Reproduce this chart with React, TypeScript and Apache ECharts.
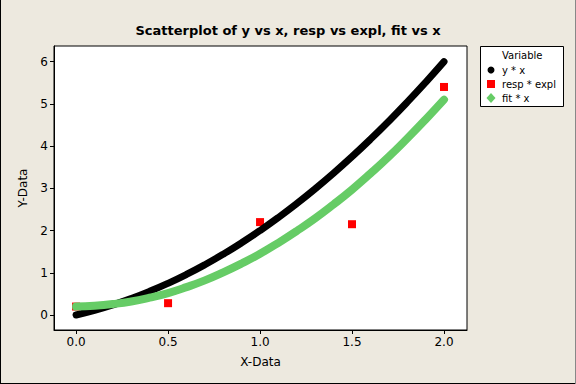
import React, { useEffect, useRef } from "react";
import * as echarts from "echarts";

const xValues = [0, 0.1, 0.2, 0.3, 0.4, 0.5, 0.6, 0.7, 0.8, 0.9, 1.0, 1.1, 1.2, 1.3, 1.4, 1.5, 1.6, 1.7, 1.8, 1.9, 2.0];
const yValues = [0, 0.11, 0.24, 0.39, 0.56, 0.75, 0.96, 1.19, 1.44, 1.71, 2.0, 2.31, 2.64, 2.99, 3.36, 3.75, 4.16, 4.59, 5.04, 5.51, 6.0];
const fitValues = [0.2, 0.22, 0.26, 0.32, 0.41, 0.52, 0.66, 0.82, 1.01, 1.22, 1.45, 1.71, 1.99, 2.29, 2.62, 2.97, 3.35, 3.75, 4.18, 4.63, 5.1];
const explValues = [0, 0.5, 1.0, 1.5, 2.0];
const respValues = [0.2, 0.28, 2.2, 2.15, 5.4];

const xTicks = [0, 0.5, 1, 1.5, 2];
const yTicks = [0, 1, 2, 3, 4, 5, 6];

const seriesNames = ["y * x", "resp * expl", "fit * x"];
const colors = ["#000000", "#FF0000", "#66CC66"];

const FONT = "DejaVu Sans";

export default function App() {
  const ref = useRef<HTMLDivElement>(null);
  useEffect(() => {
    document.body.style.margin = "0";
    const chart = echarts.init(ref.current!, null, { renderer: "svg" });
    const pair = (xs: number[], ys: number[]) => xs.map((x, i) => [x, ys[i]]);
    const lx = 491;
    const ly = [70, 84, 98];
    chart.setOption({
      animation: false,
      backgroundColor: "#EDE9DF",
      title: {
        text: "Scatterplot of y vs x, resp vs expl, fit vs x",
        left: "center",
        top: 19,
        textStyle: { fontFamily: FONT, fontSize: 13, fontWeight: "bold", color: "#000" },
      },
      grid: {
        left: 54,
        top: 46,
        right: 109,
        bottom: 54,
        show: true,
        backgroundColor: "#fff",
        borderColor: "#000",
        borderWidth: 1,
      },
      xAxis: {
        type: "value",
        min: -0.12,
        max: 2.125,
        name: "X-Data",
        nameLocation: "middle",
        nameGap: 26,
        nameTextStyle: { fontFamily: FONT, fontSize: 12, color: "#000" },
        axisLine: { show: true, onZero: false, lineStyle: { color: "#000" } },
        axisTick: { show: true, length: 4, lineStyle: { color: "#000" }, customValues: xTicks },
        axisLabel: {
          fontFamily: FONT,
          fontSize: 12,
          color: "#000",
          margin: 6,
          customValues: xTicks,
          formatter: (v: number) => v.toFixed(1),
        },
        splitLine: { show: false },
      },
      yAxis: {
        type: "value",
        min: -0.355,
        max: 6.37,
        name: "Y-Data",
        nameLocation: "middle",
        nameGap: 23,
        nameTextStyle: { fontFamily: FONT, fontSize: 12, color: "#000" },
        axisLine: { show: true, onZero: false, lineStyle: { color: "#000" } },
        axisTick: { show: true, length: 4, lineStyle: { color: "#000" }, customValues: yTicks },
        axisLabel: {
          fontFamily: FONT,
          fontSize: 12,
          color: "#000",
          margin: 6,
          customValues: yTicks,
        },
        splitLine: { show: false },
      },
      graphic: [
        {
          type: "rect",
          shape: { x: 480.5, y: 46.5, width: 83, height: 60 },
          style: { fill: "#fff", stroke: "#000", lineWidth: 1 },
        },
        {
          type: "text",
          x: 502,
          y: 50,
          style: { text: "Variable", fontFamily: FONT, fontSize: 10, fill: "#000" },
        },
        { type: "circle", shape: { cx: lx, cy: ly[0], r: 3.5 }, style: { fill: colors[0] } },
        { type: "rect", shape: { x: lx - 4, y: ly[1] - 4, width: 8, height: 8 }, style: { fill: colors[1] } },
        {
          type: "polygon",
          shape: { points: [[lx, ly[2] - 5], [lx + 4.5, ly[2]], [lx, ly[2] + 5], [lx - 4.5, ly[2]]] },
          style: { fill: colors[2] },
        },
        ...seriesNames.map((n, i) => ({
          type: "text",
          x: 502,
          y: ly[i],
          style: { text: n, fontFamily: FONT, fontSize: 10, fill: "#000", verticalAlign: "middle" },
        })),
        { type: "line", shape: { x1: 0.5, y1: 0, x2: 0.5, y2: 384 }, style: { stroke: "#000", lineWidth: 1 } },
        { type: "line", shape: { x1: 0, y1: 383.5, x2: 576, y2: 383.5 }, style: { stroke: "#000", lineWidth: 1 } },
        { type: "line", shape: { x1: 575.5, y1: 0, x2: 575.5, y2: 384 }, style: { stroke: "#888", lineWidth: 1 } },
      ],
      series: [
        {
          name: seriesNames[1],
          type: "scatter",
          symbol: "rect",
          symbolSize: 8,
          itemStyle: { color: colors[1], opacity: 1 },
          data: pair(explValues, respValues),
          z: 0,
        },
        {
          name: seriesNames[0],
          type: "line",
          smooth: true,
          symbol: "none",
          lineStyle: { color: colors[0], width: 7, cap: "round" },
          data: pair(xValues, yValues),
          z: 4,
        },
        {
          name: seriesNames[2],
          type: "line",
          smooth: true,
          symbol: "none",
          lineStyle: { color: colors[2], width: 8, cap: "round" },
          data: pair(xValues, fitValues),
          z: 5,
        },
      ],
    });
    return () => chart.dispose();
  }, []);
  return <div ref={ref} style={{ width: 576, height: 384 }} />;
}
